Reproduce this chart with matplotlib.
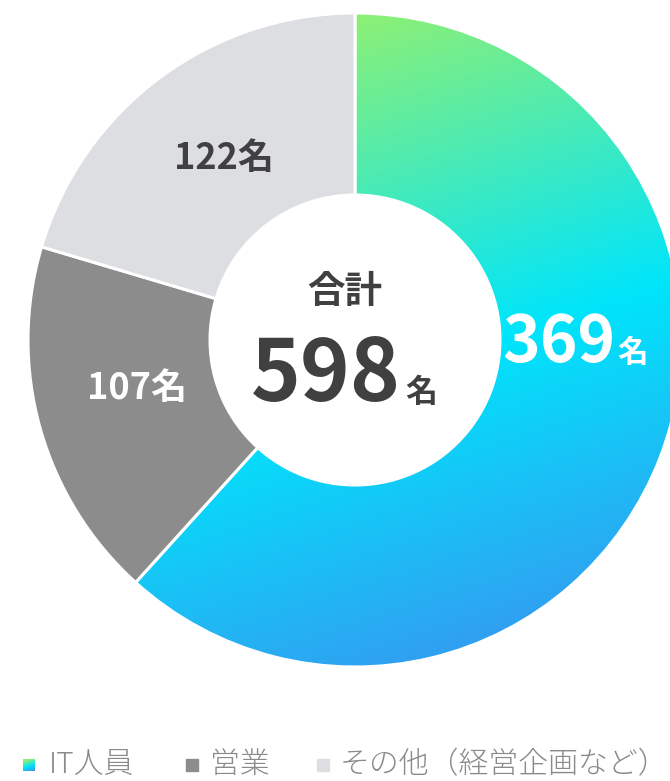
import numpy as np
import matplotlib
matplotlib.use("Agg")
import matplotlib.pyplot as plt
from matplotlib.colors import LinearSegmentedColormap
from matplotlib.patches import Rectangle

plt.rcParams['font.family'] = ['Noto Sans CJK JP', 'DejaVu Sans']

# ---- data ----
categories = ["IT人員", "営業", "その他（経営企画など）"]
values = [369, 107, 122]
total_label = "合計"
unit = "名"

# ---- style ----
W, H = 670, 781
CX, CY = 355, 340
R_OUT, R_IN = 327, 145
gray_dark = "#8c8c8c"
gray_light = "#dcdee2"
text_dark = "#404040"
grad_cmap = LinearSegmentedColormap.from_list(
    "itgrad", [(0.0, "#96f06c"), (0.12, "#8ef074"), (0.55, "#00e5fb"), (1.0, "#3f8bee")])


def Y(y):
    return H - y


fig = plt.figure(figsize=(W / 100, H / 100), dpi=100)
ax = fig.add_axes([0, 0, 1, 1])
ax.set_xlim(0, W)
ax.set_ylim(0, H)
ax.set_aspect('equal')
ax.axis('off')

wedges, _ = ax.pie(values, colors=["none", gray_dark, gray_light], startangle=90,
                   counterclock=False, radius=R_OUT, center=(CX, Y(CY)),
                   wedgeprops=dict(width=R_OUT - R_IN, edgecolor='white', linewidth=2.2))
ax.set_xlim(0, W)
ax.set_ylim(0, H)


def gradient_image(x0, x1, y0, y1, n=400):
    xs = np.linspace(x0, x1, n)
    ys = np.linspace(y0, y1, n)
    XX, YY = np.meshgrid(xs, ys)
    ang = np.deg2rad(18)
    d = np.array([np.sin(ang), np.cos(ang)])
    p = XX * d[0] + YY * d[1]
    corners = np.array([[CX - R_OUT, CY - R_OUT], [CX + R_OUT, CY - R_OUT],
                        [CX - R_OUT, CY + R_OUT], [CX + R_OUT, CY + R_OUT]])
    proj = corners @ d
    t = (p - proj.min()) / (proj.max() - proj.min())
    return grad_cmap(np.clip(t, 0, 1))


img = gradient_image(CX - R_OUT, CX + R_OUT, CY - R_OUT, CY + R_OUT)
im = ax.imshow(img, extent=(CX - R_OUT, CX + R_OUT, Y(CY + R_OUT), Y(CY - R_OUT)),
               origin='upper', zorder=0.5, interpolation='bilinear')
im.set_clip_path(wedges[0])
wedges[0].set_zorder(1)

# ---- labels on slices ----
ax.text(615, Y(362), str(values[0]), color='white', fontsize=46, fontweight='bold',
        ha='right', va='baseline')
ax.text(617, Y(362), unit, color='white', fontsize=22, fontweight='bold',
        ha='left', va='baseline')
ax.text(137, Y(388), f"{values[1]}{unit}", color='white', fontsize=26, fontweight='bold',
        ha='center', va='center')
ax.text(224, Y(158), f"{values[2]}{unit}", color=text_dark, fontsize=26, fontweight='bold',
        ha='center', va='center')

# ---- center ----
ax.text(345, Y(291), total_label, color=text_dark, fontsize=27, fontweight='bold',
        ha='center', va='center')
ax.text(401, Y(401), str(sum(values)), color=text_dark, fontsize=61, fontweight='bold',
        ha='right', va='baseline')
ax.text(405, Y(402), unit, color=text_dark, fontsize=23, fontweight='bold',
        ha='left', va='baseline')

# ---- legend ----
ly = 765
sq = 12
leg_items = [(23, 49, None), (186, 210, gray_dark), (317, 340, gray_light)]
for (sx, tx, col), name in zip(leg_items, categories):
    if col is None:
        small = gradient_image(0, 2 * R_OUT, 0, 2 * R_OUT, n=50)
        ax.imshow(small, extent=(sx, sx + sq, Y(ly + sq / 2), Y(ly - sq / 2)),
                  origin='upper', zorder=2)
    else:
        ax.add_patch(Rectangle((sx, Y(ly + sq / 2)), sq, sq, color=col, zorder=2))
    ax.text(tx, Y(ly), name, color="#8a8a8a", fontsize=21.5, fontweight='light',
            ha='left', va='center')

ax.set_xlim(0, W)
ax.set_ylim(0, H)
fig.savefig("out.png", dpi=100)
